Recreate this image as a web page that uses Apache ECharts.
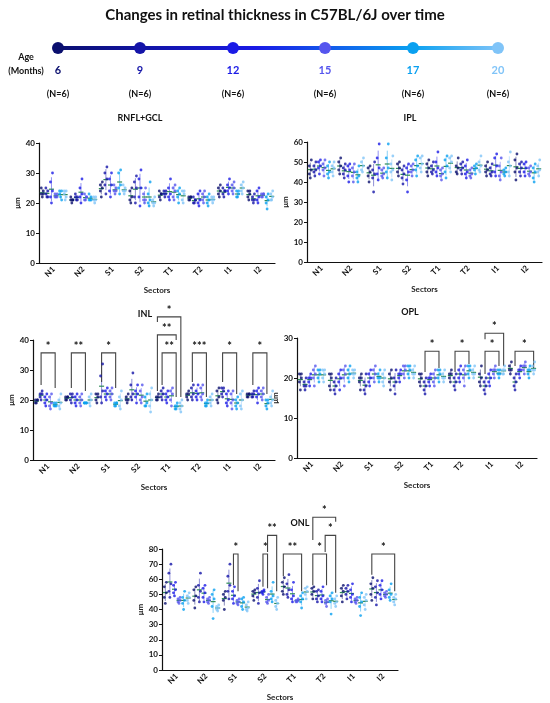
<!DOCTYPE html>
<html>
<head>
<meta charset="utf-8">
<script src="https://cdn.jsdelivr.net/npm/echarts@6/dist/echarts.min.js"></script>
<style>
  html, body { margin: 0; padding: 0; background: #fff; }
  #main { width: 550px; height: 703px; }
</style>
</head>
<body>
<div id="main"></div>
<script>
// categories
const sectors = ['N1', 'N2', 'S1', 'S2', 'T1', 'T2', 'I1', 'I2']
const ages = ['6', '9', '12', '15', '17', '20']
const ageColors = ['#0a0f6e', '#1414a8', '#1a1ae6', '#5555ee', '#0aa0f0', '#80c4f8']

// values per sector: 6 age groups separated by '|'
const rnflGcl = [
  '22 23 24 25 23|22 23 24 25 22|20 22 24 27 30|22 22 23 23 22|22 23 24 24 21|21 23 24 24 22',
  '20 21 21 22 21|21 22 22 23 21|20 22 23 25 28|21 21 22 23 22|21 21 22 23 21|20 21 21 22 22',
  '22 24 25 26 27|23 26 28 30 32|22 24 26 28 30|23 24 25 26 24|23 25 26 30 31|23 24 25 26 24',
  '20 21 22 24 25|20 22 25 27 29|19 22 25 28 31|20 21 21 23 25|19 20 21 23 27|19 20 20 21 22',
  '21 22 23 24 23|22 23 24 24 23|21 22 23 25 28|21 22 24 25 26|20 22 23 24 25|20 21 23 24 24',
  '21 21 22 22 22|20 20 21 22 21|19 20 21 23 24|20 21 22 23 24|19 20 21 22 23|20 21 21 22 22',
  '22 23 24 25 26|22 23 24 25 24|23 24 25 26 28|23 24 25 26 27|22 22 23 24 24|23 24 25 26 27',
  '21 22 23 24 24|20 21 21 22 23|20 21 22 24 25|22 22 23 23 23|18 20 21 22 23|21 21 22 23 24'
]
const ipl = [
  '42 44 46 48 51|43 45 46 48 50|44 47 48 50 51|43 46 47 49 51|42 44 45 48 50|43 45 47 48 50',
  '44 46 48 50 52|42 44 46 47 49|40 43 46 48 49|40 43 45 47 49|40 42 43 45 48|45 46 48 50 52',
  '40 43 45 47 48|35 42 44 46 50|41 44 47 52 59|42 43 44 46 47|42 45 47 52 59|41 45 46 49 53',
  '43 45 47 49 50|39 42 44 46 48|35 41 45 47 49|43 45 46 48 49|43 46 48 51 53|45 47 49 52 53',
  '43 45 47 49 51|44 45 46 48 50|43 45 47 50 55|41 43 44 46 47|42 45 48 51 53|45 47 50 52 53',
  '44 45 47 48 52|44 46 47 49 50|42 44 45 48 51|42 43 44 46 47|44 46 47 48 49|45 46 48 50 53',
  '43 45 46 48 50|43 44 45 47 49|43 45 48 52 54|41 43 45 48 52|43 44 45 46 47|43 45 48 50 55',
  '41 45 47 51 54|43 45 47 49 50|43 45 47 49 50|43 44 45 47 48|40 42 45 47 49|43 45 46 48 51'
]
const inl = [
  '19 19 20 20 20|20 21 22 22 23|18 19 20 21 22|17 18 19 21 22|18 18 18 19 19|17 18 19 20 22',
  '20 20 21 21 21|19 20 21 22 22|18 19 20 21 22|18 19 20 21 22|19 19 19 19 19|18 19 20 21 22',
  '19 20 21 22 22|19 21 23 28 32|20 21 22 23 24|20 21 22 23 24|18 18 19 19 19|17 18 20 21 23',
  '19 20 20 21 22|20 21 22 25 29|19 21 22 23 25|19 20 21 23 25|18 18 19 21 22|16 18 20 22 24',
  '20 20 21 21 22|20 21 22 23 24|19 20 21 22 23|18 20 22 23 24|17 17 18 18 19|16 17 18 19 20',
  '20 21 22 22 23|20 21 22 24 25|20 21 22 23 25|20 21 22 24 25|18 18 19 19 20|18 19 20 21 22',
  '19 20 21 23 24|21 22 23 24 24|18 19 20 22 23|17 19 20 22 23|17 18 19 20 21|17 18 20 22 23',
  '21 21 22 22 22|21 21 22 22 23|19 21 22 23 24|20 21 22 23 24|17 18 19 20 20|18 19 20 21 23'
]
const opl = [
  '17 19 20 21 21|17 18 18 19 20|18 19 20 20 21|18 20 21 22 23|19 20 21 22 22|19 20 21 22 22',
  '17 18 20 21 21|16 17 18 19 20|17 19 20 21 22|18 20 21 22 23|19 20 21 22 23|20 21 21 22 22',
  '17 19 20 20 21|16 17 18 19 21|18 19 20 21 22|19 20 21 22 23|19 20 20 21 22|18 19 20 21 22',
  '17 19 20 21 22|16 18 19 20 22|19 20 21 21 22|20 21 22 23 23|20 21 22 23 23|20 21 21 22 23',
  '18 19 20 21 21|16 17 18 19 20|18 19 20 20 21|18 19 20 21 22|19 20 21 22 22|19 20 20 21 22',
  '19 20 21 21 22|17 18 19 20 21|19 20 21 22 23|18 20 21 22 23|20 21 22 23 23|20 21 21 22 23',
  '18 19 20 21 23|16 17 18 19 20|18 19 20 21 22|20 21 22 22 23|20 21 21 22 22|21 21 22 22 23',
  '21 22 22 23 24|17 18 19 20 21|20 21 22 22 23|21 22 23 23 24|20 21 22 22 23|21 22 22 23 24'
]
const onl = [
  '44 48 51 55 58|48 52 57 64 70|49 51 53 56 58|44 45 46 47 48|40 44 46 48 52|44 46 48 49 51',
  '41 46 49 53 55|45 48 52 56 64|45 48 51 54 56|44 45 46 47 48|34 42 47 50 53|39 40 41 42 43',
  '40 46 48 50 52|47 52 56 62 70|44 47 49 52 55|43 44 45 46 47|40 42 45 47 48|39 40 41 43 45',
  '46 49 51 52 53|44 48 51 54 59|50 51 52 52 53|44 45 46 48 50|45 47 49 52 58|40 42 44 46 48',
  '50 52 55 58 61|48 50 53 57 63|45 47 49 53 58|45 45 46 46 47|41 45 47 49 51|47 50 52 54 55',
  '47 50 52 54 55|45 47 49 52 53|45 47 49 52 55|42 44 45 46 47|37 45 47 49 51|42 44 45 47 49',
  '45 49 52 54 56|47 50 52 54 56|45 48 50 53 57|44 45 46 47 48|36 42 45 48 51|40 43 46 48 50',
  '46 50 54 57 61|43 48 51 55 59|47 50 53 56 59|48 49 50 51 52|46 48 50 53 57|43 45 47 48 50'
]

// significance brackets: [sector, ageFrom, ageTo, top, leftLegEnd, rightLegEnd, label]
const inlSig = [
  [0, 1, 4, 35.7, 25, 24, '*'], [1, 1, 4, 35.7, 24, 23, '**'], [2, 1, 4, 35.7, 26, 24, '*'],
  [4, 1, 4, 35.7, 25, 21, '**'], [4, 0, 4, 41.7, 23, 40, '**'], [4, 0, 5, 47.7, 46, 21, '*'],
  [5, 1, 4, 35.7, 26, 21, '***'], [6, 1, 4, 35.7, 26, 22, '*'], [7, 1, 4, 35.7, 25, 22, '*']
]
const oplSig = [
  [4, 1, 4, 26.7, 21.5, 22.5, '*'], [5, 1, 4, 26.7, 21.5, 23.5, '*'],
  [6, 1, 4, 26.7, 21, 23, '*'], [6, 1, 5, 31.2, 29.7, 23, '*'], [7, 1, 5, 26.7, 23, 22.5, '*']
]
const onlSig = [
  [2, 2, 3, 76.7, 56, 52, '*'], [3, 2, 3, 76.7, 55, 54, '*'], [3, 3, 5, 89, 78, 52, '**'],
  [4, 0, 4, 76.7, 62, 52, '**'], [5, 0, 3, 76.7, 56, 56, '*'], [5, 2.7, 5, 89, 78, 51, '*'],
  [5, 0, 5, 101, 86, 98, '*'], [7, 0, 5, 76.7, 63, 52, '*']
]

const panels = [
  { name: 'RNFL+GCL', data: rnflGcl, sig: [], max: 40, grid: { left: 39, top: 143, width: 236, height: 120 }, title: [140, 118] },
  { name: 'IPL', data: ipl, sig: [], max: 60, grid: { left: 307, top: 142, width: 235, height: 120 }, title: [410, 118] },
  { name: 'INL', data: inl, sig: inlSig, max: 40, grid: { left: 33, top: 340, width: 242, height: 120 }, title: [145, 314] },
  { name: 'OPL', data: opl, sig: oplSig, max: 30, grid: { left: 297, top: 338, width: 240, height: 120 }, title: [410, 312] },
  { name: 'ONL', data: onl, sig: onlSig, max: 80, grid: { left: 162, top: 549, width: 236, height: 121 }, title: [300, 523] }
]

const ageStep = 0.155
const jitter = [0, -0.035, 0.035, -0.035, 0.035]
const xOf = (s, a) => s + 0.5 + (a - 2.5) * ageStep

const grids = [], xAxes = [], yAxes = [], series = []
const axisText = { color: '#111', fontSize: 8, fontWeight: 'bold', fontFamily: 'Lato' }

panels.forEach((p, pi) => {
  grids.push(p.grid)
  xAxes.push({
    gridIndex: pi, type: 'category', data: sectors, boundaryGap: true,
    name: 'Sectors', nameLocation: 'middle', nameGap: 23,
    nameTextStyle: { color: '#222', fontSize: 8, fontWeight: 'bold', fontFamily: 'Lato' },
    axisLine: { lineStyle: { color: '#111', width: 1.2 } },
    axisTick: { alignWithLabel: true, length: 3, lineStyle: { color: '#111' } },
    axisLabel: Object.assign({ rotate: 45, margin: 5 }, axisText)
  })
  xAxes.push({ gridIndex: pi, type: 'value', min: 0, max: 8, show: false })
  yAxes.push({
    gridIndex: pi, type: 'value', min: 0, max: p.max, interval: 10,
    name: 'μm', nameLocation: 'middle', nameGap: 18,
    nameTextStyle: { color: '#222', fontSize: 8, fontWeight: 'bold', fontFamily: 'Lato' },
    axisLine: { show: true, lineStyle: { color: '#111', width: 1.2 } },
    axisTick: { show: true, length: 3, lineStyle: { color: '#111' } },
    splitLine: { show: false },
    axisLabel: Object.assign({ margin: 4 }, axisText)
  })
  const xi = pi * 2 + 1
  const bars = []
  ages.forEach((age, a) => {
    const pts = []
    p.data.forEach((row, s) => {
      const vals = row.split('|')[a].split(' ').map(Number)
      vals.forEach((v, k) => pts.push([xOf(s, a) + jitter[k], v]))
      const mean = vals.reduce((t, v) => t + v, 0) / vals.length
      const sd = Math.sqrt(vals.reduce((t, v) => t + (v - mean) * (v - mean), 0) / (vals.length - 1))
      bars.push([xOf(s, a), mean, sd, a])
    })
    series.push({
      type: 'scatter', xAxisIndex: xi, yAxisIndex: pi, data: pts,
      symbolSize: 2.8, itemStyle: { color: ageColors[a] }, silent: true
    })
  })
  series.push({
    type: 'custom', xAxisIndex: xi, yAxisIndex: pi, data: bars, silent: true,
    renderItem: (params, api) => {
      const x = api.value(0), m = api.value(1), sd = api.value(2)
      const c = ageColors[api.value(3)]
      const lo = api.coord([x, m - sd]), hi = api.coord([x, m + sd]), mid = api.coord([x, m])
      return { type: 'group', children: [
        { type: 'line', shape: { x1: lo[0], y1: lo[1], x2: hi[0], y2: hi[1] }, style: { stroke: c, lineWidth: 0.8, opacity: 0.6 } },
        { type: 'line', shape: { x1: mid[0] - 2.5, y1: mid[1], x2: mid[0] + 2.5, y2: mid[1] }, style: { stroke: '#2e8b57', lineWidth: 1.2 } }
      ] }
    }
  })
  if (p.sig.length) {
    series.push({
      type: 'custom', xAxisIndex: xi, yAxisIndex: pi, silent: true, clip: false,
      data: p.sig.map(b => [xOf(b[0], b[1]), xOf(b[0], b[2]), b[3], b[4], b[5], b[6]]),
      renderItem: (params, api) => {
        const b = p.sig[params.dataIndex]
        const x1 = api.value(0), x2 = api.value(1)
        const tl = api.coord([x1, api.value(2)]), tr = api.coord([x2, api.value(2)])
        const bl = api.coord([x1, api.value(3)]), br = api.coord([x2, api.value(4)])
        return { type: 'group', children: [
          { type: 'polyline', shape: { points: [bl, tl, tr, br] }, style: { stroke: '#444', lineWidth: 1.1, fill: null } },
          { type: 'text', x: (tl[0] + tr[0]) / 2, y: tl[1] - 1,
            style: { text: b[6], fill: '#111', font: 'bold 11px Lato', textAlign: 'center', textVerticalAlign: 'bottom' } }
        ] }
      }
    })
  }
})

// timeline header
const timelineX = [58, 140, 233, 325, 413, 498]
const graphics = [
  { type: 'text', x: 275, y: 15, style: { text: 'Changes in retinal thickness in C57BL/6J over time', font: 'bold 15px Lato', fill: '#111', textAlign: 'center', textVerticalAlign: 'middle' } },
  { type: 'line', shape: { x1: timelineX[0], y1: 48, x2: timelineX[5], y2: 48 },
    style: { lineWidth: 4, stroke: new echarts.graphic.LinearGradient(0, 0, 1, 0, [
      { offset: 0, color: ageColors[0] }, { offset: 0.45, color: ageColors[2] },
      { offset: 0.8, color: ageColors[4] }, { offset: 1, color: ageColors[5] }]) } },
  { type: 'text', x: 26, y: 57, style: { text: 'Age', font: 'bold 9px Lato', fill: '#111', textAlign: 'center', textVerticalAlign: 'middle' } },
  { type: 'text', x: 26, y: 71, style: { text: '(Months)', font: 'bold 9px Lato', fill: '#111', textAlign: 'center', textVerticalAlign: 'middle' } }
]
timelineX.forEach((x, i) => {
  graphics.push({ type: 'circle', shape: { cx: x, cy: 48, r: 6 }, style: { fill: ageColors[i] } })
  graphics.push({ type: 'text', x: x, y: 70, style: { text: ages[i], font: 'bold 11px Lato', fill: ageColors[i], textAlign: 'center', textVerticalAlign: 'middle' } })
  graphics.push({ type: 'text', x: x, y: 94, style: { text: '(N=6)', font: 'bold 9px Lato', fill: '#111', textAlign: 'center', textVerticalAlign: 'middle' } })
})
panels.forEach(p => {
  graphics.push({ type: 'text', x: p.title[0], y: p.title[1], style: { text: p.name, font: 'bold 9px Lato', fill: '#111', textAlign: 'center', textVerticalAlign: 'middle' } })
})

const chart = echarts.init(document.getElementById('main'))
chart.setOption({
  animation: false,
  backgroundColor: '#fff',
  grid: grids,
  xAxis: xAxes,
  yAxis: yAxes,
  series: series,
  graphic: graphics
})
</script>
</body>
</html>
